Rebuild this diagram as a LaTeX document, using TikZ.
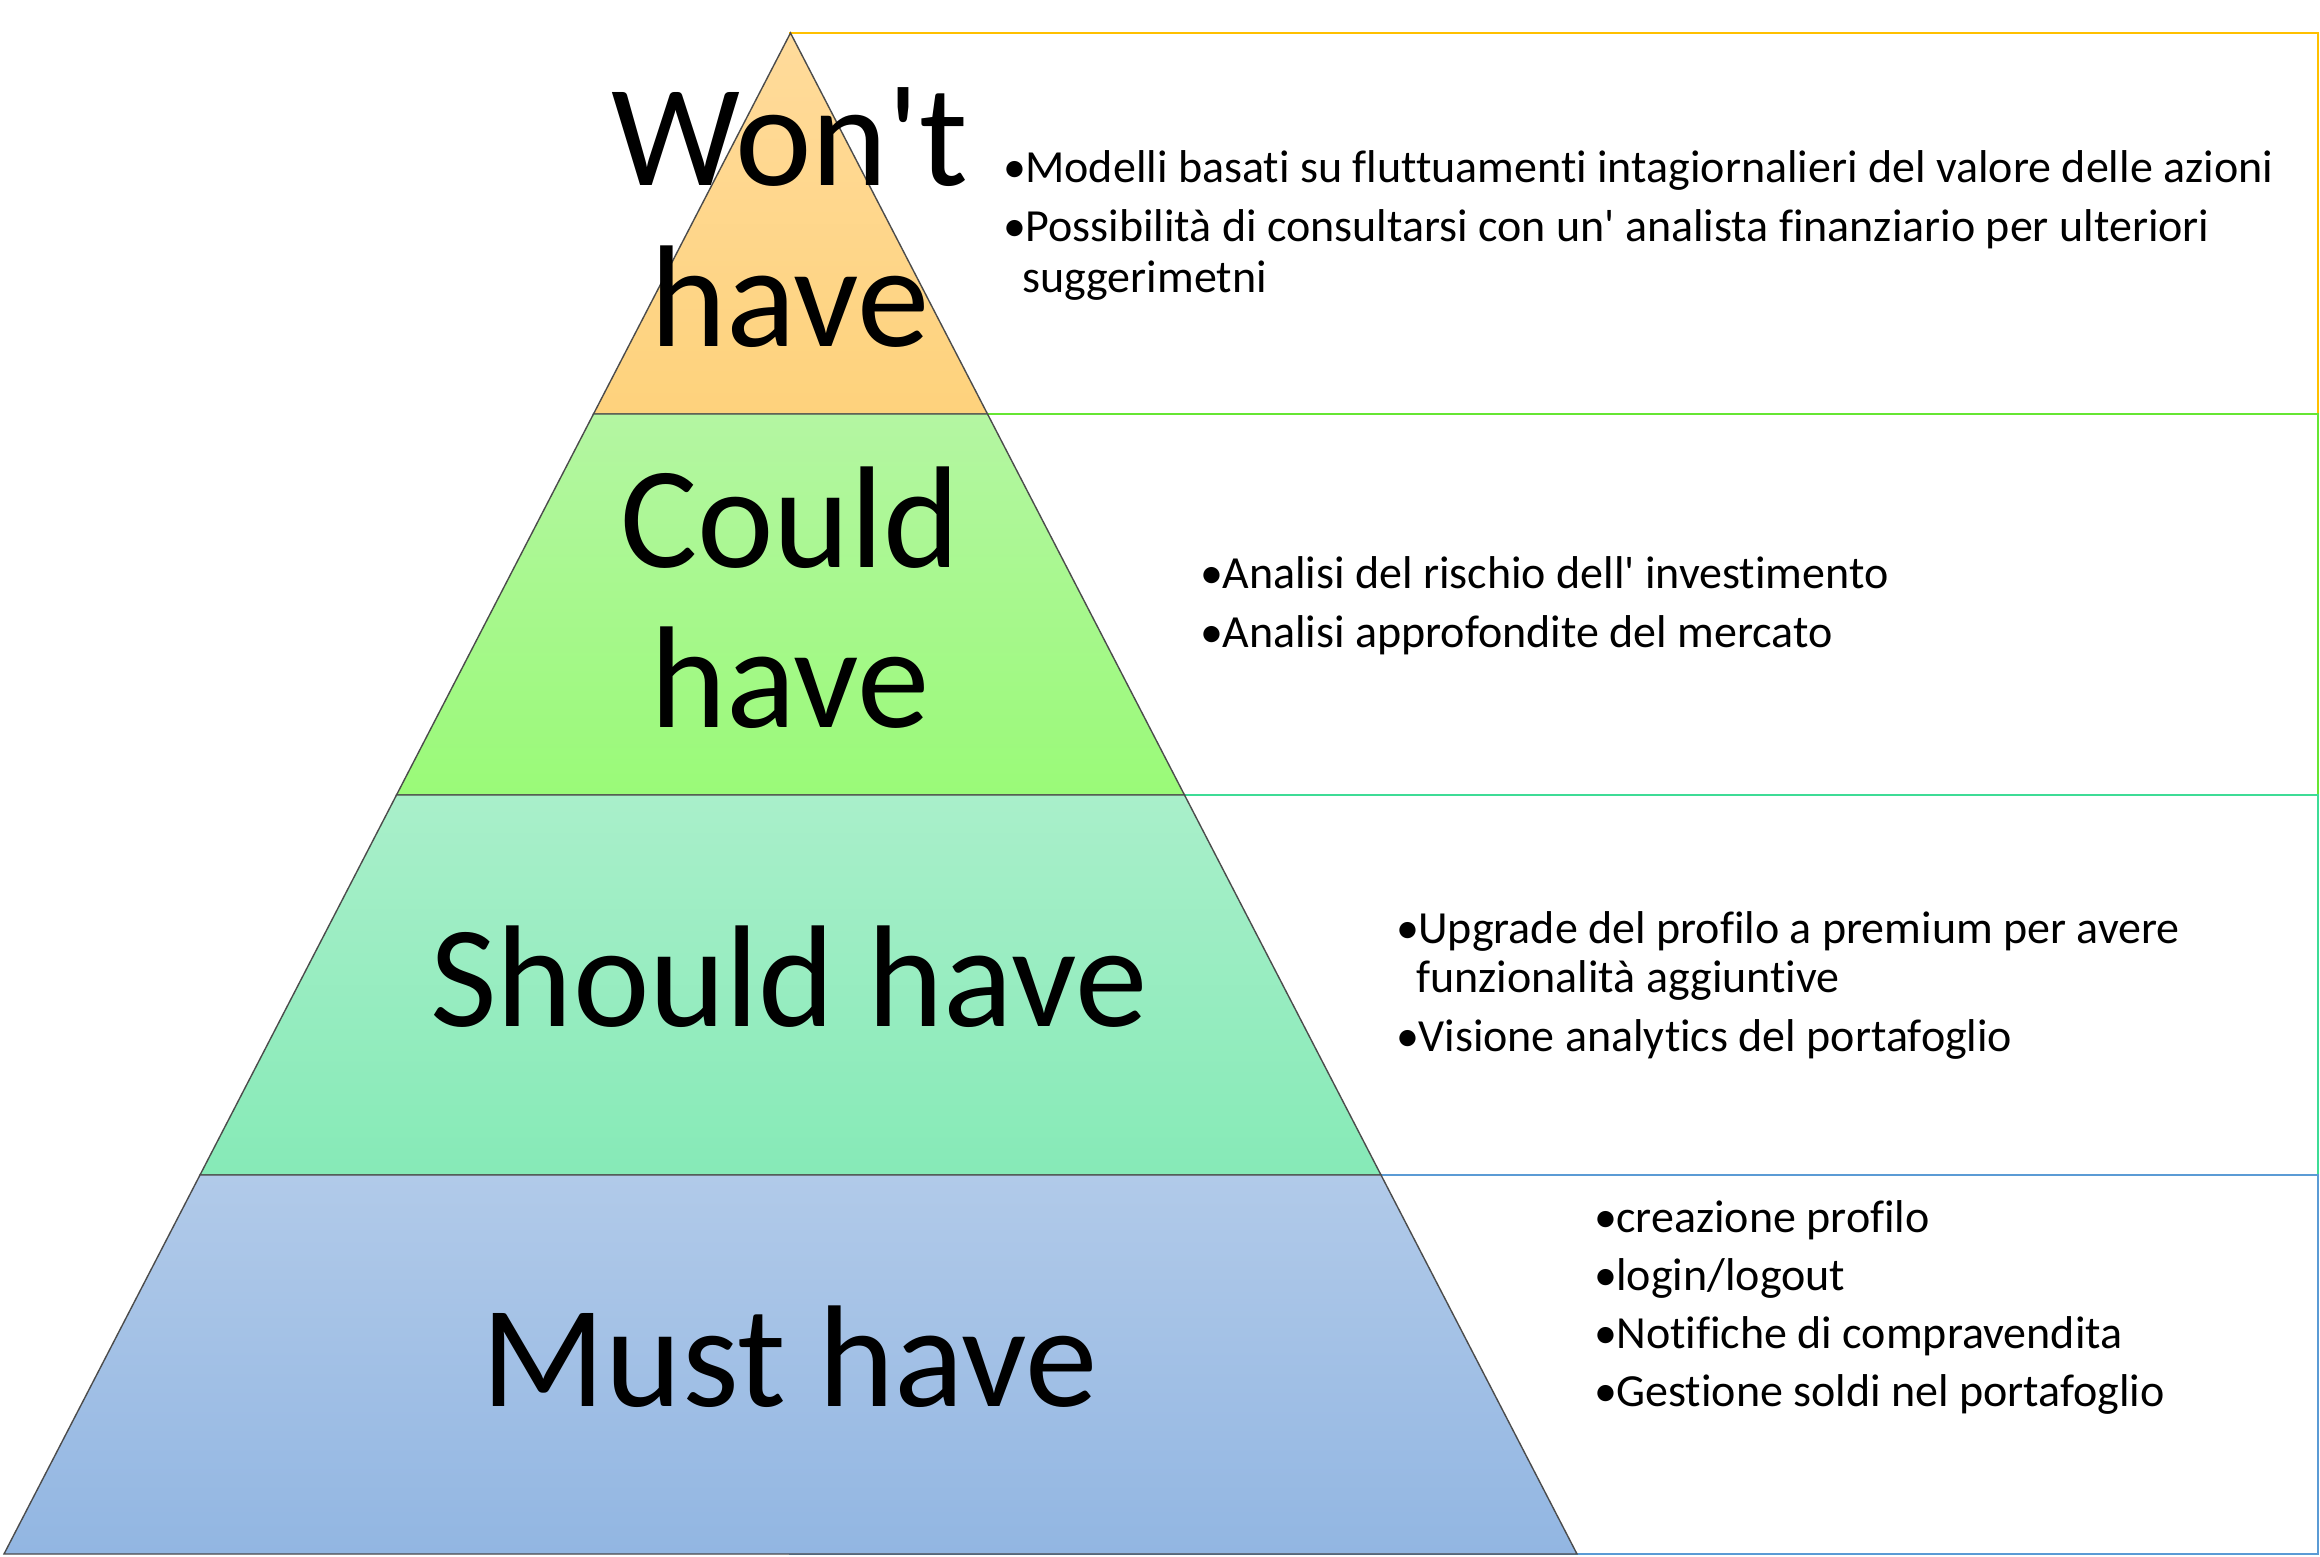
\documentclass[tikz,border=0pt]{standalone}
\usepackage{fontspec}
\setmainfont{Carlito}[Ligatures={TeXOff,NoCommon}]
\definecolor{cOrange}{HTML}{FFC000}
\definecolor{cGreen}{HTML}{66E633}
\definecolor{cTeal}{HTML}{3EDC96}
\definecolor{cBlue}{HTML}{5B9BD5}
\begin{document}
\begin{tikzpicture}[x=0.5pt,y=-0.5pt,
  layer/.style={draw=black!70,line width=0.7pt},
  boxrect/.style={line width=1pt},
  bigtext/.style={font=\fontsize{72.5}{78}\selectfont,inner sep=0pt,anchor=base},
  itemtext/.style={font=\fontsize{23}{28}\selectfont,inner sep=0pt,anchor=base west},
  bul/.style={font=\fontsize{23}{28}\selectfont,inner sep=0pt,anchor=base west}]
\useasboundingbox (0,0) rectangle (2320,1557);
\fill[white] (0,0) rectangle (2320,1557);
% corner coordinates of the pyramid
\coordinate (A) at (790.5,33);
\coordinate (L1) at (593.5,414); \coordinate (R1) at (987.5,414);
\coordinate (L2) at (396.5,795); \coordinate (R2) at (1184.5,795);
\coordinate (L3) at (200,1175);  \coordinate (R3) at (1381,1175);
\coordinate (L4) at (4,1554);    \coordinate (R4) at (1577,1554);
% right-hand boxes
\draw[boxrect,draw=cOrange] (790,33) rectangle (2318,414);
\draw[boxrect,draw=cGreen] (790,414) rectangle (2318,795);
\draw[boxrect,draw=cTeal] (790,795) rectangle (2318,1175);
\draw[boxrect,draw=cBlue] (790,1175) rectangle (2318,1554);
% pyramid layers
\path[layer,top color={rgb,255:red,255;green,219;blue,155},bottom color={rgb,255:red,254;green,210;blue,124}]
  (A) -- (R1) -- (L1) -- cycle;
\path[layer,top color={rgb,255:red,180;green,246;blue,162},bottom color={rgb,255:red,154;green,250;blue,120}]
  (L1) -- (R1) -- (R2) -- (L2) -- cycle;
\path[layer,top color={rgb,255:red,169;green,239;blue,202},bottom color={rgb,255:red,134;green,234;blue,183}]
  (L2) -- (R2) -- (R3) -- (L3) -- cycle;
\path[layer,top color={rgb,255:red,177;green,202;blue,233},bottom color={rgb,255:red,146;green,182;blue,226}]
  (L3) -- (R3) -- (R4) -- (L4) -- cycle;
% layer titles
\node[bigtext] (w1) at (790,186) {Won't};
\node[bigtext] (w2) at (790,347) {have};
\node[bigtext] (c1) at (790,567) {Could};
\node[bigtext] (c2) at (790,727) {have};
\node[bigtext] (s1) at (789,1026) {Should have};
\node[bigtext] (m1) at (790,1406) {Must have};
% box 1 items
\node[bul] (b11) at (1003,183) {•};
\node[itemtext] (t11) at (1025,183) {Modelli basati su fluttuamenti intagiornalieri del valore delle azioni};
\node[bul] (b12) at (1003,242) {•};
\node[itemtext] (t12) at (1025,242) {Possibilità di consultarsi con un' analista finanziario per ulteriori};
\node[itemtext] (t12b) at (1022,293) {suggerimetni};
% box 2 items
\node[bul] (b21) at (1200,588) {•};
\node[itemtext] (t21) at (1222,588) {Analisi del rischio dell' investimento};
\node[bul] (b22) at (1200,647) {•};
\node[itemtext] (t22) at (1222,647) {Analisi approfondite del mercato};
% box 3 items
\node[bul] (b31) at (1396,943) {•};
\node[itemtext] (t31) at (1418,943) {Upgrade del profilo a premium per avere};
\node[itemtext] (t31b) at (1416,992) {funzionalità aggiuntive};
\node[bul] (b32) at (1396,1051) {•};
\node[itemtext] (t32) at (1418,1051) {Visione analytics del portafoglio};
% box 4 items
\node[bul] (b41) at (1594,1232) {•};
\node[itemtext] (t41) at (1616,1232) {creazione profilo};
\node[bul] (b42) at (1594,1290) {•};
\node[itemtext] (t42) at (1616,1290) {login/logout};
\node[bul] (b43) at (1594,1348) {•};
\node[itemtext] (t43) at (1616,1348) {Notifiche di compravendita};
\node[bul] (b44) at (1594,1406) {•};
\node[itemtext] (t44) at (1616,1406) {Gestione soldi nel portafoglio};
\end{tikzpicture}
\end{document}
